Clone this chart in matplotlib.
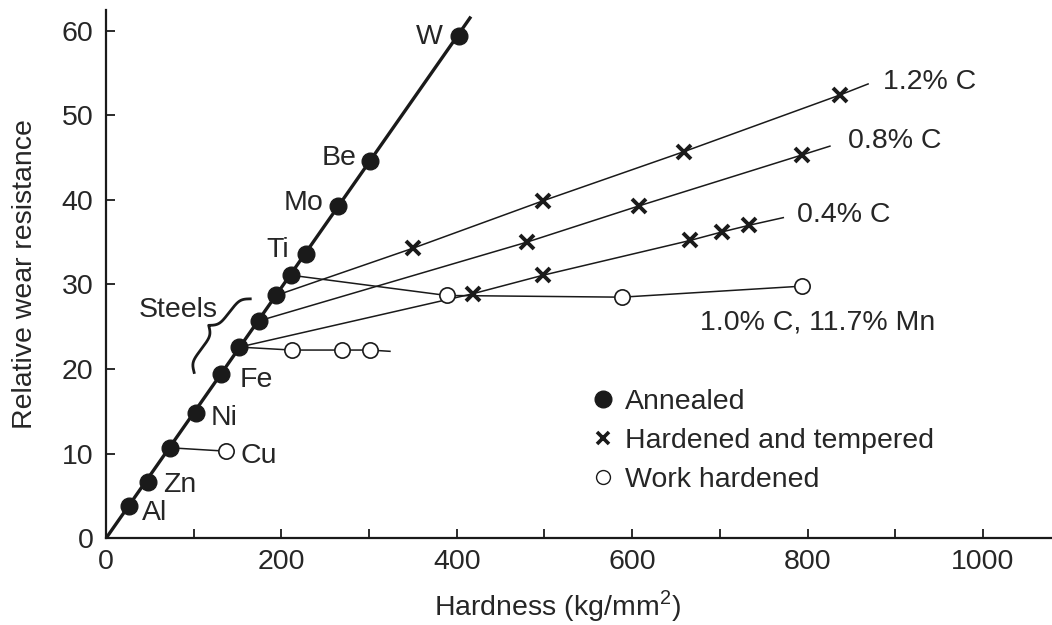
import numpy as np
import matplotlib
matplotlib.use('Agg')
import matplotlib.pyplot as plt
from matplotlib.lines import Line2D

plt.rcParams['font.family'] = ['Liberation Sans', 'DejaVu Sans']
plt.rcParams['mathtext.fontset'] = 'custom'
plt.rcParams['mathtext.rm'] = 'Liberation Sans'

# Annealed metals (filled circles on the thick line)
anneal_names = ['Al', 'Zn', 'Cu', 'Ni', 'Fe', '', '', '', '', 'Ti', 'Mo', 'Be', 'W']
anneal_x = [26.6, 48.2, 73, 102.2, 131.1, 152, 174.5, 193.8, 210.6, 227.5, 264.2, 301, 403]
anneal_y = [3.8, 6.7, 10.7, 14.8, 19.4, 22.6, 25.7, 28.7, 31.1, 33.6, 39.3, 44.6, 59.4]
trend_x = [0, 415]
trend_y = [0, 61.5]

# Hardened and tempered steels (first point = annealed steel, last = line end)
c12_x = [193.8, 350.4, 498.6, 659, 837, 869]
c12_y = [28.7, 34.3, 39.9, 45.7, 52.4, 53.7]
c08_x = [174.5, 479.8, 608.1, 793.3, 825.5]
c08_y = [25.7, 35.0, 39.3, 45.3, 46.35]
c04_x = [152, 418.1, 498.6, 665.9, 702, 733.4, 772.3]
c04_y = [22.6, 28.9, 31.1, 35.2, 36.2, 37.0, 37.9]

# Work hardened (first point = annealed start)
mn_x = [210.6, 388.5, 588.4, 793.3]
mn_y = [31.1, 28.7, 28.5, 29.8]
fe_wh_x = [152, 211.7, 268.8, 301, 323.8]
fe_wh_y = [22.6, 22.25, 22.25, 22.25, 22.1]
cu_wh_x = [73, 136.6]
cu_wh_y = [10.7, 10.3]

# label positions
metal_labels = {'W': (384, 59.2, 'right'), 'Be': (285.6, 45.0, 'right'),
                'Mo': (248.2, 39.6, 'right'), 'Ti': (208.7, 34.1, 'right'),
                'Fe': (152.8, 18.7, 'left'), 'Ni': (119.7, 14.2, 'left'),
                'Cu': (152.8, 9.7, 'left'), 'Zn': (65, 6.3, 'left'),
                'Al': (40.7, 2.95, 'left')}
steel_labels = [('1.2% C', 886, 53.9), ('0.8% C', 846, 46.95),
                ('0.4% C', 787.6, 38.2), ('1.0% C, 11.7% Mn', 677.3, 25.55)]

tc = '#262626'
lc = '#1a1a1a'
fs = 20.5

fig = plt.figure(figsize=(10.52, 6.25), dpi=100)
ax = fig.add_axes([106 / 1052, 1 - 538.3 / 625, (1052 - 106) / 1052, (538.3 - 9.5) / 625])
ax.set_xlim(0, 1078.7)
ax.set_ylim(0, 62.5)

# thin lines
for xs, ys in [(c12_x, c12_y), (c08_x, c08_y), (c04_x, c04_y),
               (mn_x, mn_y), (fe_wh_x, fe_wh_y), (cu_wh_x, cu_wh_y)]:
    ax.plot(xs, ys, color=lc, lw=1.1, zorder=2)

# thick annealed line
ax.plot(trend_x, trend_y, color=lc, lw=2.4, zorder=3)
ax.plot(anneal_x, anneal_y, 'o', color=lc, ms=12, zorder=5)

# crosses
for xs, ys in [(c12_x, c12_y), (c08_x, c08_y), (c04_x, c04_y)]:
    ax.plot(xs[1:-1], ys[1:-1], 'x', color=lc, ms=10, mew=2.8, zorder=5)

# open circles
ax.plot(mn_x[1:], mn_y[1:], 'o', mfc='white', mec=lc, mew=1.2, ms=11, zorder=5)
ax.plot(fe_wh_x[1:-1], fe_wh_y[1:-1], 'o', mfc='white', mec=lc, mew=1.2, ms=11, zorder=5)
ax.plot(cu_wh_x[1:], cu_wh_y[1:], 'o', mfc='white', mec=lc, mew=1.2, ms=11, zorder=5)

for name, (x, y, ha) in metal_labels.items():
    ax.text(x, y, name, ha=ha, va='center', fontsize=fs, color=tc)
for s, x, y in steel_labels:
    ax.text(x, y, s, ha='left', va='center', fontsize=fs, color=tc)
ax.text(127.7, 27.0, 'Steels', ha='right', va='center', fontsize=fs, color=tc)

# curly brace next to the steels
fig.canvas.draw()
p0 = ax.transData.transform((100.5, 19.6))
p1 = ax.transData.transform((164.5, 28.3))
d = p1 - p0
L = np.hypot(*d)
u = d / L
v = np.array([u[1], -u[0]])
half = L / 2
t = np.linspace(0, half, 200)
beta = 0.3
yh = 1 / (1 + np.exp(-beta * (t - t[0]))) + 1 / (1 + np.exp(-beta * (t - t[-1])))
bx = np.concatenate((t, t[-2::-1] * -1 + L))
by = np.concatenate((yh, yh[-2::-1]))
by = (by - by.min()) / (by.max() - by.min()) * 17
pts = p0 + np.outer(bx, u) + np.outer(by, -v)
pts_d = ax.transData.inverted().transform(pts)
ax.plot(pts_d[:, 0], pts_d[:, 1], color=lc, lw=2.0, zorder=4, clip_on=False)

# legend
handles = [Line2D([], [], ls='none', marker='o', color=lc, ms=12),
           Line2D([], [], ls='none', marker='x', color=lc, ms=9, mew=2.6),
           Line2D([], [], ls='none', marker='o', mfc='white', mec=lc, mew=1.0, ms=10)]
leg = ax.legend(handles, ['Annealed', 'Hardened and tempered', 'Work hardened'],
                loc='upper left', bbox_to_anchor=((594 - 106) / 946, (538.3 - 389) / 528.8),
                frameon=False, fontsize=fs, handlelength=0.6, handletextpad=0.5,
                labelspacing=0.45, borderpad=0, borderaxespad=0)
for txt in leg.get_texts():
    txt.set_color(tc)

# axes styling
for s in ['top', 'right']:
    ax.spines[s].set_visible(False)
for s in ['left', 'bottom']:
    ax.spines[s].set_linewidth(1.6)
    ax.spines[s].set_color(lc)
ax.set_xticks([0, 200, 400, 600, 800, 1000])
ax.set_xticks([100, 300, 500, 700, 900], minor=True)
ax.set_yticks([0, 10, 20, 30, 40, 50, 60])
ax.tick_params(which='both', direction='in', length=6.5, width=1.3, color=lc,
               labelsize=fs, labelcolor=tc)
ax.tick_params(axis='x', pad=8)
ax.tick_params(axis='y', pad=9)

ax.set_xlabel(r'Hardness (kg/mm$^{\mathregular{2}}$)', fontsize=fs, color=tc)
ax.set_ylabel('Relative wear resistance', fontsize=fs, color=tc)
ax.xaxis.set_label_coords((557 - 106) / 946, (538.3 - 606) / 528.8)
ax.xaxis.label.set_va('center')
ax.yaxis.set_label_coords((25 - 106) / 946, 0.5)
ax.yaxis.label.set_va('center')

fig.savefig('out.png', dpi=100)
